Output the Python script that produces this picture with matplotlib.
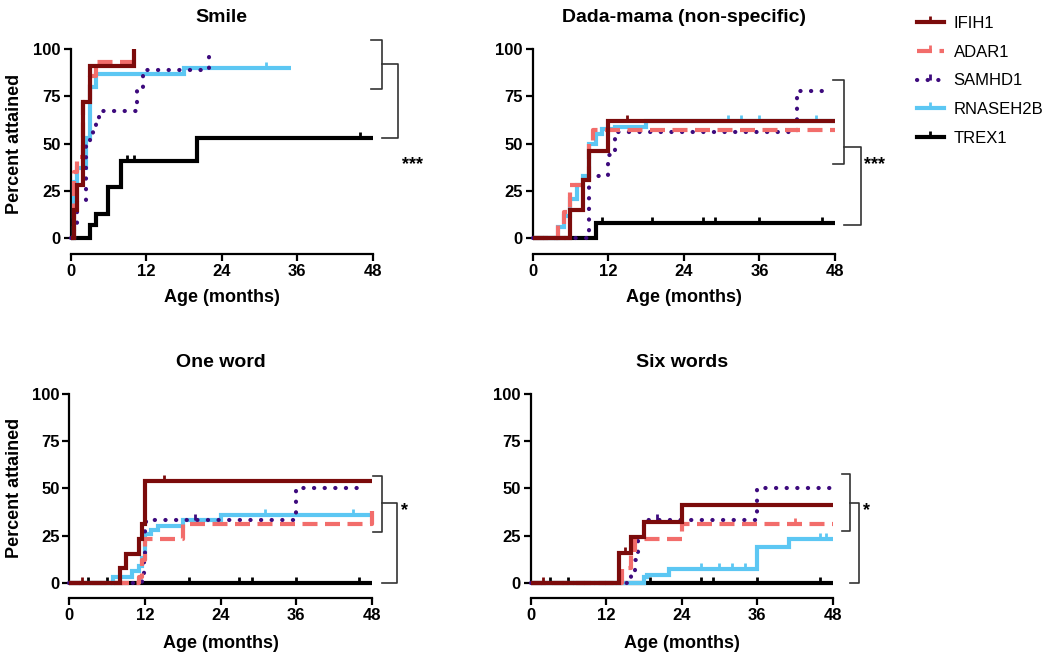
import matplotlib
matplotlib.use('Agg')
import matplotlib.pyplot as plt
from matplotlib.path import Path
from matplotlib.lines import Line2D

plt.rcParams['font.family'] = ['Liberation Sans', 'DejaVu Sans']

W, H = 1050, 655

genes = ['IFIH1', 'ADAR1', 'SAMHD1', 'RNASEH2B', 'TREX1']
titles = ['Smile', 'Dada-mama (non-specific)', 'One word', 'Six words']
x_ticks = [0, 12, 24, 36, 48]
y_ticks = [0, 25, 50, 75, 100]
stars = ['***', '***', '*', '*']

# ---- Smile ----
smile_t = {'IFIH1': [0, 0.5, 1, 2, 3, 10],
           'ADAR1': [0, 0.5, 1, 2, 3, 4],
           'SAMHD1': [0, 0.5, 1, 2.5, 3, 3.5, 4, 4.5, 10.5, 11.5, 22],
           'RNASEH2B': [0, 0.5, 1, 2.5, 3, 4, 18],
           'TREX1': [0, 3, 4, 6, 8, 20]}
smile_v = {'IFIH1': [0, 15, 28, 72, 91, 100],
           'ADAR1': [0, 35, 43, 72, 86, 93],
           'SAMHD1': [0, 6, 20, 50, 55, 58, 61, 67, 78, 89, 100],
           'RNASEH2B': [0, 30, 37, 53, 80, 87, 90],
           'TREX1': [0, 7, 13, 27, 41, 53]}
smile_end = {'IFIH1': 10, 'ADAR1': 10, 'SAMHD1': 22, 'RNASEH2B': 35, 'TREX1': 48}
smile_cens = {'IFIH1': [], 'ADAR1': [], 'SAMHD1': [], 'RNASEH2B': [31],
              'TREX1': [9, 10, 46]}

# ---- Dada-mama ----
dada_t = {'IFIH1': [0, 6, 8, 9, 12],
          'ADAR1': [0, 4, 5, 6, 9, 9.5],
          'SAMHD1': [0, 9, 12, 13, 42],
          'RNASEH2B': [0, 4, 5, 6, 7, 8, 9, 10, 11, 13, 18],
          'TREX1': [0, 10]}
dada_v = {'IFIH1': [0, 15, 31, 46, 62],
          'ADAR1': [0, 7, 14, 28, 50, 57],
          'SAMHD1': [0, 33, 44, 56, 78],
          'RNASEH2B': [0, 6, 12, 21, 28, 33, 50, 55, 58, 59, 62],
          'TREX1': [0, 8]}
dada_end = {'IFIH1': 48, 'ADAR1': 48, 'SAMHD1': 47, 'RNASEH2B': 48, 'TREX1': 48}
dada_cens = {'IFIH1': [15], 'ADAR1': [], 'SAMHD1': [], 'RNASEH2B': [31, 33, 36, 45],
             'TREX1': [11, 19, 27, 29, 36, 46]}

# ---- One word ----
one_t = {'IFIH1': [0, 8, 9, 11, 11.5, 12],
         'ADAR1': [0, 11, 11.5, 12, 18, 48],
         'SAMHD1': [0, 11.5, 11.8, 12, 12.2, 36],
         'RNASEH2B': [0, 7, 10, 11, 11.5, 12, 13, 14, 18, 24],
         'TREX1': [0]}
one_v = {'IFIH1': [0, 8, 15, 23, 31, 54],
         'ADAR1': [0, 3, 12, 23, 31, 40],
         'SAMHD1': [0, 5, 13, 28, 33, 50],
         'RNASEH2B': [0, 3, 6, 9, 13, 26, 28, 30, 33, 36],
         'TREX1': [0]}
one_end = {'IFIH1': 48, 'ADAR1': 48, 'SAMHD1': 47, 'RNASEH2B': 48, 'TREX1': 48}
one_cens = {'IFIH1': [2, 15], 'ADAR1': [], 'SAMHD1': [20], 'RNASEH2B': [31, 45],
            'TREX1': [3, 6, 19, 27, 29, 36, 46]}

# ---- Six words ----
six_t = {'IFIH1': [0, 14, 16, 18, 24],
         'ADAR1': [0, 14.5, 16, 16.5, 24],
         'SAMHD1': [0, 16, 16.5, 17, 18, 36],
         'RNASEH2B': [0, 18, 18.5, 22, 36, 41],
         'TREX1': [0]}
six_v = {'IFIH1': [0, 16, 24, 32, 41],
         'ADAR1': [0, 8, 15, 23, 31],
         'SAMHD1': [0, 4, 12, 22, 33, 50],
         'RNASEH2B': [0, 3, 4, 7, 19, 23],
         'TREX1': [0]}
six_end = {'IFIH1': 48, 'ADAR1': 48, 'SAMHD1': 48, 'RNASEH2B': 48, 'TREX1': 48}
six_cens = {'IFIH1': [2, 15], 'ADAR1': [42], 'SAMHD1': [20], 'RNASEH2B': [27, 30, 32, 34, 46, 47],
            'TREX1': [3, 6, 19, 27, 29, 36, 46]}

panels_t = [smile_t, dada_t, one_t, six_t]
panels_v = [smile_v, dada_v, one_v, six_v]
panels_end = [smile_end, dada_end, one_end, six_end]
panels_cens = [smile_cens, dada_cens, one_cens, six_cens]

# bracket geometry per panel (data coords): inner x0, inner x1, outer x, inner top, inner bottom, join y, outer bottom, star x, star y
brackets = [
    (47.8, 49.5, 52.1, 105, 79, 92, 53, 52.6, 39),
    (47.7, 49.5, 52.1, 83.6, 39, 48.4, 7, 52.6, 39),
    (48.2, 49.6, 52.0, 56.5, 27, 42, 0, 52.6, 38),
    (49.4, 50.8, 52.2, 57.6, 27.6, 42, 0, 52.8, 38),
]

styles = {
    'IFIH1': dict(color='#7B0B0B', lw=3.0, ls='-', z=7),
    'ADAR1': dict(color='#F26D6B', lw=3.0, ls=(0, (3.6, 1.8)), z=6),
    'SAMHD1': dict(color='#3D0A7D', lw=3.0, ls=(0, (0.05, 2.5)), z=5),
    'RNASEH2B': dict(color='#5CC7F3', lw=3.0, ls='-', z=4),
    'TREX1': dict(color='#000000', lw=3.0, ls='-', z=3),
}

# axes pixel geometry: x at 0, x at 48, y at 0, y at 100
geom = [(70.7, 372.7, 238.3, 49.0),
        (532.7, 835.0, 238.3, 49.0),
        (69.3, 371.7, 582.7, 394.0),
        (530.7, 832.7, 582.7, 394.0)]

tick_path = Path([(0, 0), (0, 1)], [Path.MOVETO, Path.LINETO])

fig = plt.figure(figsize=(W / 100, H / 100), dpi=100)

def step_value(t, v, x):
    val = v[0]
    for ti, vi in zip(t, v):
        if ti <= x:
            val = vi
    return val

for i in range(4):
    x0, x1, y0, y1 = geom[i]
    ax = fig.add_axes([x0 / W, 1 - y0 / H, (x1 - x0) / W, (y0 - y1) / H])
    ax.set_xlim(0, 48)
    ax.set_ylim(0, 100)
    for g in genes:
        st = styles[g]
        t = panels_t[i][g] + [panels_end[i][g]]
        v = panels_v[i][g] + [panels_v[i][g][-1]]
        ax.plot(t, v, drawstyle='steps-post', color=st['color'], lw=st['lw'],
                ls=st['ls'], zorder=st['z'], clip_on=False,
                dash_capstyle='round' if g == 'SAMHD1' else 'butt',
                solid_capstyle='butt', solid_joinstyle='miter')
        cx = panels_cens[i][g]
        if cx:
            cy = [step_value(panels_t[i][g], panels_v[i][g], c) for c in cx]
            ax.plot(cx, cy, ls='none', marker=tick_path, markersize=8,
                    markeredgewidth=2.0, color=st['color'], zorder=st['z'],
                    clip_on=False)
    for s in ['top', 'right']:
        ax.spines[s].set_visible(False)
    ax.spines['bottom'].set_position(('outward', 11.3))
    for s in ['left', 'bottom']:
        ax.spines[s].set_linewidth(1.6)
    ax.set_xticks(x_ticks)
    ax.set_yticks(y_ticks)
    ax.tick_params(width=1.6, length=5, labelsize=12, pad=2)
    for lab in ax.get_xticklabels() + ax.get_yticklabels():
        lab.set_fontweight('bold')

    # brackets
    bx0, bx1, bx2, ytop, ybot, yjoin, yout, sx, sy = brackets[i]
    bkw = dict(color='#333333', lw=1.2, clip_on=False, zorder=10)
    ax.plot([bx0, bx1, bx1, bx0], [ytop, ytop, ybot, ybot], **bkw)
    ax.plot([bx1, bx2, bx2, bx1], [yjoin, yjoin, yout, yout], **bkw)
    ax.text(sx, sy, stars[i], fontsize=13, fontweight='bold', ha='left', va='center',
            clip_on=False)

    # title and labels
    cx_px = (x0 + x1) / 2
    ty = 17 if i < 2 else 362
    fig.text(cx_px / W, 1 - ty / H, titles[i], ha='center', va='center',
             fontsize=14, fontweight='bold')
    ly = 298 if i < 2 else 643
    fig.text(cx_px / W, 1 - ly / H, 'Age (months)', ha='center', va='center',
             fontsize=13, fontweight='bold')
    if i in (0, 2):
        fig.text(15 / W, 1 - ((y0 + y1) / 2) / H, 'Percent attained', ha='center',
                 va='center', rotation=90, fontsize=13, fontweight='bold')

handles = []
for g in genes:
    st = styles[g]
    handles.append(Line2D([0], [0], color=st['color'], lw=st['lw'], ls=st['ls'],
                          marker=tick_path, markersize=8, markeredgewidth=2.0,
                          dash_capstyle='round' if g == 'SAMHD1' else 'butt'))
fig.legend(handles, genes, loc='upper left', bbox_to_anchor=(917 / W, 1 - 16 / H),
           frameon=False, fontsize=12, handlelength=1.6, handletextpad=0.6,
           labelspacing=0.82, borderpad=0, borderaxespad=0, numpoints=1)

fig.savefig('out.png', dpi=100)
